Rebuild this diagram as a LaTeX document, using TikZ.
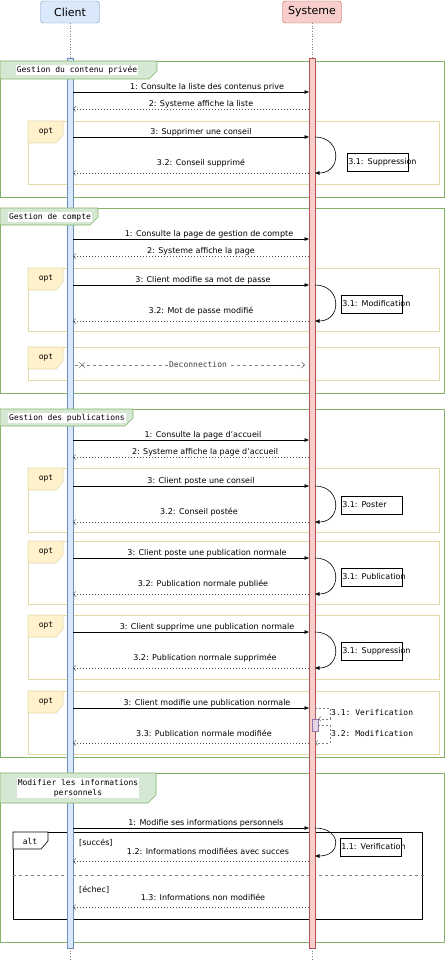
\documentclass[tikz,border=0pt]{standalone}
\usepackage{fontspec}
\setmainfont{DejaVu Sans}
\setmonofont{DejaVu Sans Mono}
\usetikzlibrary{arrows.meta,shapes.misc}

\definecolor{clientfill}{HTML}{DAE8FC}
\definecolor{clientline}{HTML}{6C8EBF}
\definecolor{sysfill}{HTML}{F8CECC}
\definecolor{sysline}{HTML}{B85450}
\definecolor{grpfill}{HTML}{D5E8D4}
\definecolor{grpline}{HTML}{82B366}
\definecolor{optfill}{HTML}{FFF2CC}
\definecolor{optline}{HTML}{E3D9A8}
\definecolor{subfill}{HTML}{E1D5E7}
\definecolor{subline}{HTML}{9673A6}
\definecolor{retline}{HTML}{505050}

\newcommand\lblfont{\fontsize{8}{9.6}\selectfont}
\newcommand\codefont{\ttfamily\fontsize{8}{9.6}\selectfont}

\tikzset{
  actor/.style={draw, rounded corners=3pt, minimum width=59pt, minimum height=22pt,
    inner sep=2pt, font=\fontsize{11}{13}\selectfont},
  bar/.style={draw, minimum width=6pt, minimum height=890pt, inner sep=0pt},
  subbar/.style={draw=subline, fill=subfill, minimum width=6pt, minimum height=12pt, inner sep=0pt},
  lifeline/.style={gray, dotted, line width=0.6pt},
  grpframe/.style={draw=grpline, line width=0.6pt},
  optframe/.style={draw=optline, line width=0.6pt},
  altframe/.style={draw=black, line width=0.6pt},
  altsep/.style={gray, dash pattern=on 3pt off 3pt, line width=0.6pt},
  grplabel/.style={fill=white, inner sep=1pt, font=\codefont},
  framelabel/.style={inner sep=0pt, font=\codefont},
  msg/.style={-{Triangle[length=4.5pt,width=3.5pt]}, line width=0.6pt},
  ret/.style={retline, -{Straight Barb[length=2.5pt,width=5pt]}, line width=0.5pt, dash pattern=on 1.5pt off 1.5pt},
  selfcall/.style={-{Triangle[length=4.5pt,width=3.5pt]}, line width=0.6pt},
  dcall/.style={gray, -{Straight Barb[length=2.5pt,width=5pt]}, line width=0.6pt, dash pattern=on 2pt off 2pt},
  deco/.style={gray, -{Straight Barb[length=3pt,width=6pt]}, line width=0.6pt, dash pattern=on 3pt off 3pt},
  decolabel/.style={midway, xshift=8pt, fill=white, inner sep=1pt, text=darkgray, font=\codefont},
  lab/.style={midway, inner sep=0pt, yshift=5pt, xshift=#1, text=black, font=\lblfont},
  lab/.default=10pt,
  note/.style={draw, fill=white, anchor=west, inner sep=1pt, minimum height=18pt,
    text width=59pt, align=left, line width=0.5pt, font=\lblfont},
  codelabel/.style={anchor=west, inner sep=0pt, font=\codefont},
}

\begin{document}
\begin{tikzpicture}[x=1pt,y=-1pt]
  \useasboundingbox (0,0) rectangle (445,960);

  % combined fragments
  \foreach \ft/\fb in {61/197, 208/393, 409/757, 773/942}{
    \draw[grpframe] (0,\ft) rectangle (444,\fb);
  }

  \foreach \ot/\ob in {121/184, 268/331, 347/380, 468/532, 541/604, 615/679, 691/754}{
    \draw[optframe] (28,\ot) rectangle (439,\ob);
    \draw[optframe, fill=optfill] (28,\ot) -- (63,\ot) -- (63,{\ot+14})
      -- (56,{\ot+22}) -- (28,{\ot+22}) -- cycle;
    \node[framelabel] (opt\ot) at (46,{\ot+11}) {opt};
  }

  \draw[altframe] (13,832) rectangle (422,919);
  \draw[altframe, fill=white] (13,832) -- (48,832) -- (48,841) -- (41,849) -- (13,849) -- cycle;
  \node[framelabel] (alt) at (30,841) {alt};
  \draw[altsep] (13,875) -- (425,875);
  \node[anchor=west, inner sep=0pt, font=\lblfont] (succ) at (79,843) {[succés]};
  \node[anchor=west, inner sep=0pt, font=\lblfont] (fail) at (79,890) {[échec]};

  % lifelines
  \node[actor, draw=clientline, fill=clientfill] (client) at (70,12) {Client};
  \node[actor, draw=sysline, fill=sysfill]       (sys)    at (312,12) {Systeme};
  \node[bar, draw=clientline, fill=clientfill] (cbar) at (70,503) {};
  \node[bar, draw=sysline, fill=sysfill]       (sbar) at (312,503) {};
  \coordinate (cend) at (70,960);
  \coordinate (send) at (312,960);
  \draw[lifeline] (client) -- (cbar);
  \draw[lifeline] (cbar) -- (cend);
  \draw[lifeline] (sys) -- (sbar);
  \draw[lifeline] (sbar) -- (send);

  % fragment tabs on top of the bars
  \foreach \ft/\fw/\fh in {61/157/18, 208/98/17, 409/133/17, 773/156/30}{
    \draw[grpframe, fill=grpfill] (0,\ft) -- (\fw,\ft) -- (\fw,{\ft+\fh-8})
      -- ({\fw-8},{\ft+\fh}) -- (0,{\ft+\fh}) -- cycle;
  }
  \node[grplabel] (G1) at (77,70)  {Gestion du contenu privée};
  \node[grplabel] (G2) at (50,217) {Gestion de compte};
  \node[grplabel] (G3) at (67,418) {Gestion des publications};
  \node[grplabel, align=center] (G4) at (78,788) {Modifier les informations\\personnels};

  % message rows
  \foreach \n/\y in {1/92, 2/109, 3/137, 4/173, 5/239, 6/256, 7/285, 8/321,
                     9/440, 10/457, 11/486, 12/522, 13/558, 14/594, 15/632, 16/668,
                     17/708, 18/743, 19/828, 20/856, 21/861, 22/907}{
    \coordinate (C\n) at (73,\y);
    \coordinate (S\n) at (309,\y);
    \coordinate (R\n) at (315,\y);
  }

  % gestion du contenu privee
  \path[msg] (C1) edge node[lab=16pt] {1: Consulte la liste des contenus prive} (S1);
  \path[ret] (S2) edge node[lab] {2: Systeme affiche la liste} (C2);
  \path[msg] (C3) edge node[lab] {3: Supprimer une conseil} (S3);
  \draw[selfcall] (R3) .. controls +(27,0) and +(27,0) .. (R4);
  \node[note] (N1) at (347,162) {\mbox{3.1: Suppression}};
  \path[ret] (S4) edge node[lab, yshift=5pt] {3.2: Conseil supprimé} (C4);

  % gestion de compte
  \path[msg] (C5) edge node[lab=18pt] {1: Consulte la page de gestion de compte} (S5);
  \path[ret] (S6) edge node[lab] {2: Systeme affiche la page} (C6);
  \path[msg] (C7) edge node[lab=12pt] {3: Client modifie sa mot de passe} (S7);
  \draw[selfcall] (R7) .. controls +(27,0) and +(27,0) .. (R8);
  \node[note] (N2) at (341,304) {\mbox{3.1: Modification}};
  \path[ret] (S8) edge node[lab, yshift=5pt] {3.2: Mot de passe modifié} (C8);

  \coordinate (D0) at (75,365);
  \coordinate (D1) at (305,365);
  \path[deco] (D0) edge node[decolabel] {Deconnection} (D1);
  \node[cross out, draw=gray, line width=0.7pt, minimum size=5pt, inner sep=0pt] (DX) at ([xshift=7pt]D0) {};

  % gestion des publications
  \path[msg] (C9) edge node[lab=12pt] {1: Consulte la page d'accueil} (S9);
  \path[ret] (S10) edge node[lab=14pt] {2: Systeme affiche la page d'accueil} (C10);
  \path[msg] (C11) edge node[lab] {3: Client poste une conseil} (S11);
  \draw[selfcall] (R11) .. controls +(27,0) and +(27,0) .. (R12);
  \node[note] (N3) at (341,505) {\mbox{3.1: Poster}};
  \path[ret] (S12) edge node[lab=8pt, yshift=5pt] {3.2: Conseil postée} (C12);

  \path[msg] (C13) edge node[lab=16pt] {3: Client poste une publication normale} (S13);
  \draw[selfcall] (R13) .. controls +(27,0) and +(27,0) .. (R14);
  \node[note] (N4) at (341,577) {\mbox{3.1: Publication}};
  \path[ret] (S14) edge node[lab=12pt, yshift=5pt] {3.2: Publication normale publiée} (C14);

  \path[msg] (C15) edge node[lab=16pt] {3: Client supprime une publication normale} (S15);
  \draw[selfcall] (R15) .. controls +(27,0) and +(27,0) .. (R16);
  \node[note] (N5) at (341,651) {\mbox{3.1: Suppression}};
  \path[ret] (S16) edge node[lab=14pt, yshift=5pt] {3.2: Publication normale supprimée} (C16);

  \path[msg] (C17) edge node[lab=16pt] {3: Client modifie une publication normale} (S17);
  \node[subbar] (sub) at (315,725) {};
  \draw[dcall] (R17) -- ++(15,0) |- (sub.north east);
  \draw[dcall] (sub.east) -- ++(12,0) |- (R18);
  \node[codelabel] (V1) at (331,713) {3.1: Verification};
  \node[codelabel] (V2) at (331,734) {3.2: Modification};
  \path[ret] (S18) edge node[lab=13pt, yshift=5pt] {3.3: Publication normale modifiée} (C18);

  % modifier les informations personnels
  \path[msg] (C19) edge node[lab=15pt] {1: Modifie ses informations personnels} (S19);
  \draw[selfcall] (R19) .. controls +(27,0) and +(27,0) .. (R20);
  \node[note] (N6) at (340,847) {\mbox{1.1: Verification}};
  \path[ret] (S21) edge node[lab=17pt, yshift=5pt] {1.2: Informations modifiées avec succes} (C21);
  \path[ret] (S22) edge node[lab=12pt, yshift=5pt] {1.3: Informations non modifiée} (C22);

\end{tikzpicture}
\end{document}
